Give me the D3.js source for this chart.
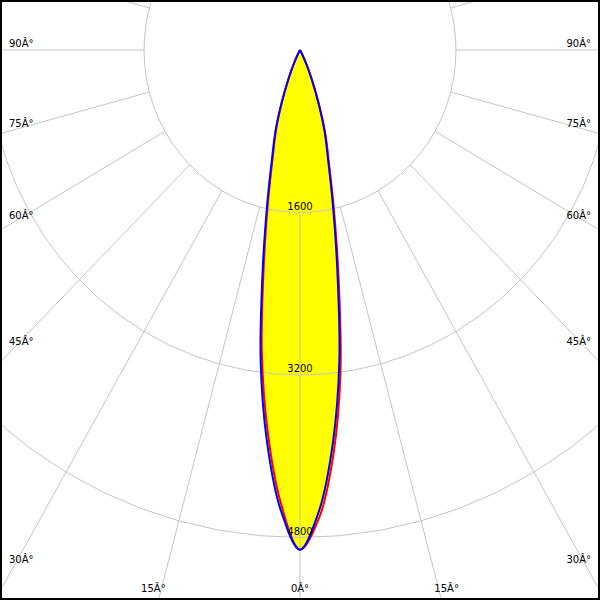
<!DOCTYPE html>
<html>
<head>
<meta charset="utf-8">
<script src="https://cdn.jsdelivr.net/npm/d3@7"></script>
<style>
  html, body { margin: 0; padding: 0; background: #fff; }
  svg { display: block; }
  text { font-family: "DejaVu Sans", sans-serif; font-size: 10px; fill: #000; }
</style>
</head>
<body>
<script>
// ---- data ----
const angles = [0, 2.5, 5, 7.5, 10, 12.5, 15, 17.5, 20, 22.5, 25, 27.5, 30, 35, 40, 45, 50, 55, 60, 65, 70, 75, 80, 85, 90];
// C90-C270 plane (blue), symmetric
const blueValues = [4920, 4534, 3878, 3091, 2206, 1556, 1109, 835, 548, 315, 163, 50, 0, 0, 0, 0, 0, 0, 0, 0, 0, 0, 0, 0, 0];
// C0 plane (red, right half)
const redC0 = [4920, 4600, 3975, 3185, 2280, 1605, 1145, 862, 566, 328, 170, 54, 0, 0, 0, 0, 0, 0, 0, 0, 0, 0, 0, 0, 0];
// C180 plane (red, left half)
const redC180 = [4920, 4470, 3785, 3000, 2135, 1505, 1072, 808, 530, 303, 156, 46, 0, 0, 0, 0, 0, 0, 0, 0, 0, 0, 0, 0, 0];
const rings = [1600, 3200, 4800, 6400];
const ringLabels = ["1600", "3200", "4800"];
const angleTicks = [0, 15, 30, 45, 60, 75, 90];
const angleTickLabels = ["0Â°", "15Â°", "30Â°", "45Â°", "60Â°", "75Â°", "90Â°"];

// ---- layout ----
const W = 600, H = 600;
const cx = 300, cy = 50;
const rx = d3.scaleLinear().domain([0, 1600]).range([0, 156]);
const ry = d3.scaleLinear().domain([0, 1600]).range([0, 162.5]);
const rad = d => d * Math.PI / 180;
// angle a in degrees, 0 = straight down, positive to the right
const pt = (I, a) => [cx + rx(I) * Math.sin(rad(a)), cy + ry(I) * Math.cos(rad(a))];

const svg = d3.select("body").append("svg").attr("width", W).attr("height", H);

// ---- lobe fill ----
function lobePoints(leftVals, rightVals) {
  const pts = [];
  for (let i = angles.length - 1; i >= 0; i--) pts.push(pt(leftVals[i], -angles[i]));
  for (let i = 1; i < angles.length; i++) pts.push(pt(rightVals[i], angles[i]));
  return pts;
}
const curveLine = d3.line().curve(d3.curveCatmullRomClosed.alpha(0.5));
const bluePts = lobePoints(blueValues, blueValues);
const redPts = lobePoints(redC180, redC0);

svg.append("path").attr("d", curveLine(bluePts)).attr("fill", "#ffff00").attr("stroke", "none");
svg.append("path").attr("d", curveLine(redPts)).attr("fill", "#ffff00").attr("stroke", "none");

// ---- grid ----
const grid = svg.append("g").attr("fill", "none").attr("stroke", "#c4c4c4").attr("stroke-width", 1);
const ringLine = d3.line().curve(d3.curveLinearClosed);
rings.forEach(v => {
  const pts = d3.range(0, 360, 5).map(a => pt(v, a));
  grid.append("path").attr("d", ringLine(pts));
});
d3.range(-165, 181, 15).forEach(a => {
  const p0 = pt(rings[0], a), p1 = pt(9000, a);
  grid.append("line").attr("x1", p0[0]).attr("y1", p0[1]).attr("x2", p1[0]).attr("y2", p1[1]);
});

// ---- curves ----
svg.append("path").attr("d", curveLine(redPts)).attr("fill", "none").attr("stroke", "#ff0000").attr("stroke-width", 2);
svg.append("path").attr("d", curveLine(bluePts)).attr("fill", "none").attr("stroke", "#0000ff").attr("stroke-width", 2);

// ---- ring labels ----
ringLabels.forEach((t, i) => {
  svg.append("text").attr("x", cx).attr("y", cy + ry(rings[i]) - 3)
    .attr("text-anchor", "middle").text(t);
});

// ---- angle labels ----
angleTicks.forEach((a, i) => {
  const sides = a === 0 ? [1] : [-1, 1];
  sides.forEach(s => {
    const dx = s * Math.sin(rad(a)) * rx(1), dy = Math.cos(rad(a)) * ry(1);
    const tx = Math.abs(dx) > 1e-9 ? (cx - 14) / Math.abs(dx) : Infinity;
    const ty = dy > 1e-9 ? (620 - cy) / dy : Infinity;
    const lbl = svg.append("text").text(angleTickLabels[i]);
    if (tx <= ty) {
      lbl.attr("x", s < 0 ? 9 : 591).attr("y", cy + tx * dy - 3)
        .attr("text-anchor", s < 0 ? "start" : "end");
    } else {
      lbl.attr("x", cx + ty * dx).attr("y", 592).attr("text-anchor", "middle");
    }
  });
});

// ---- frame ----
svg.append("rect").attr("x", 1).attr("y", 1).attr("width", W - 2).attr("height", H - 2)
  .attr("fill", "none").attr("stroke", "#000").attr("stroke-width", 2);
</script>
</body>
</html>
